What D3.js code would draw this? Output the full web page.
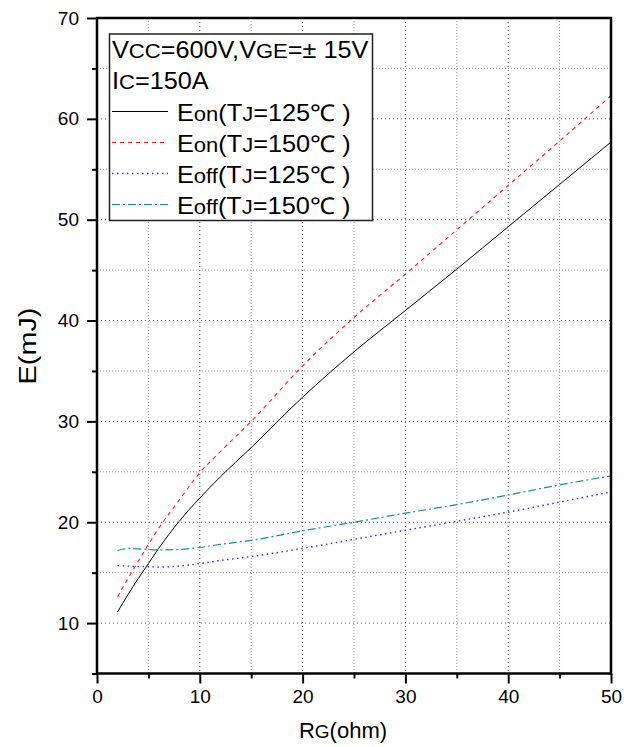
<!DOCTYPE html>
<html>
<head>
<meta charset="utf-8">
<script src="https://cdn.jsdelivr.net/npm/d3@7"></script>
<style>
  html, body { margin: 0; padding: 0; background: #fff; }
  svg { display: block; }
  text { font-family: Arial, "Liberation Sans", Helvetica, sans-serif; fill: #000; }
</style>
</head>
<body>
<svg id="chart" width="624" height="747"></svg>
<script>
// Gate resistance (ohm) sample points
const rg = [2, 3, 4, 5, 6, 8, 10, 12, 15, 20, 25, 30, 35, 40, 45, 50];
// Switching energies (mJ)
const eon125  = [11.1, 12.8, 14.4, 15.9, 17.4, 20.1, 22.4, 24.5, 27.4, 32.4, 36.9, 41.0, 45.1, 49.3, 53.5, 57.7];
const eon150  = [12.6, 14.4, 16.1, 17.8, 19.4, 22.2, 24.9, 27.0, 30.0, 35.5, 40.3, 44.6, 49.0, 53.4, 57.8, 62.3];
const eoff125 = [15.7, 15.65, 15.6, 15.6, 15.55, 15.65, 15.9, 16.2, 16.6, 17.4, 18.3, 19.2, 20.1, 21.0, 22.0, 23.0];
const eoff150 = [17.2, 17.4, 17.35, 17.3, 17.25, 17.3, 17.5, 17.8, 18.2, 19.15, 20.0, 20.9, 21.75, 22.7, 23.7, 24.6];

const xMajor = [0, 10, 20, 30, 40, 50];
const xMinor = [5, 15, 25, 35, 45];
const yMajor = [10, 20, 30, 40, 50, 60, 70];
const yMinor = [5, 15, 25, 35, 45, 55, 65];

const seriesList = [
  { values: eon125,  main: "E", sub: "on",  tj: "125", color: "#000000", dash: null,      width: 1 },
  { values: eon150,  main: "E", sub: "on",  tj: "150", color: "#ff1a1a", dash: "4,4",     width: 1.1 },
  { values: eoff125, main: "E", sub: "off", tj: "125", color: "#3030ff", dash: "1.5,3.5", width: 1.4 },
  { values: eoff150, main: "E", sub: "off", tj: "150", color: "#1a9090", dash: "8,3,2,3", width: 1.2 }
];

const svg = d3.select("#chart");
const plotL = 97, plotR = 611, plotT = 18, plotB = 673.5;

const x = d3.scaleLinear().domain([0, 50]).range([plotL, plotR]);
const y = d3.scaleLinear().domain([5, 70]).range([plotB, plotT]);

// Grid: light dotted lines on minor steps, darker on major steps
const grid = svg.append("g");
grid.selectAll(".vmin").data(xMinor).join("line")
  .attr("x1", d => x(d)).attr("x2", d => x(d)).attr("y1", plotT).attr("y2", plotB)
  .attr("stroke", "#9a9a9a").attr("stroke-width", 1).attr("stroke-dasharray", "1,2");
grid.selectAll(".vmaj").data(xMajor.slice(1, -1)).join("line")
  .attr("x1", d => x(d)).attr("x2", d => x(d)).attr("y1", plotT).attr("y2", plotB)
  .attr("stroke", "#555").attr("stroke-width", 1).attr("stroke-dasharray", "1,3");
grid.selectAll(".hmin").data(yMinor.slice(1)).join("line")
  .attr("y1", d => y(d)).attr("y2", d => y(d)).attr("x1", plotL).attr("x2", plotR)
  .attr("stroke", "#9a9a9a").attr("stroke-width", 1).attr("stroke-dasharray", "1,2");
grid.selectAll(".hmaj").data(yMajor.slice(0, -1)).join("line")
  .attr("y1", d => y(d)).attr("y2", d => y(d)).attr("x1", plotL).attr("x2", plotR)
  .attr("stroke", "#555").attr("stroke-width", 1).attr("stroke-dasharray", "1,3");

// Curves
const line = d3.line().curve(d3.curveMonotoneX);
const curves = svg.append("g");
seriesList.forEach(s => {
  curves.append("path")
    .attr("d", line(rg.map((r, i) => [x(r), y(s.values[i])])))
    .attr("fill", "none")
    .attr("stroke", s.color)
    .attr("stroke-width", s.width)
    .attr("stroke-dasharray", s.dash);
});

// Axes
const axisStyle = g => {
  g.select(".domain").remove();
  g.selectAll(".tick line").attr("stroke", "#000").attr("stroke-width", 2);
  g.selectAll(".tick text").attr("font-size", 19).attr("fill", "#000")
    .style("font-family", "Arial, 'Liberation Sans', sans-serif");
};

svg.append("g").attr("transform", `translate(0,${plotB})`)
  .call(d3.axisBottom(x).tickValues(xMajor).tickSize(10).tickPadding(6).tickFormat(d3.format("d")))
  .call(axisStyle);
svg.append("g").attr("transform", `translate(0,${plotB})`)
  .call(d3.axisBottom(x).tickValues(xMinor).tickSize(5).tickFormat(""))
  .call(axisStyle);
svg.append("g").attr("transform", `translate(${plotL},0)`)
  .call(d3.axisLeft(y).tickValues(yMajor).tickSize(10).tickPadding(8).tickFormat(d3.format("d")))
  .call(axisStyle);
svg.append("g").attr("transform", `translate(${plotL},0)`)
  .call(d3.axisLeft(y).tickValues(yMinor).tickSize(5).tickFormat(""))
  .call(axisStyle);

// Frame
svg.append("rect")
  .attr("x", plotL).attr("y", plotT).attr("width", plotR - plotL).attr("height", plotB - plotT)
  .attr("fill", "none").attr("stroke", "#000").attr("stroke-width", 2.5);

// Axis titles
const xt = svg.append("text").attr("x", 343).attr("y", 738).attr("text-anchor", "middle").attr("font-size", 22);
xt.append("tspan").text("R");
xt.append("tspan").attr("font-size", 19).text("G");
xt.append("tspan").text("(ohm)");

// Vertical title is drawn with a slightly wider letter form
svg.append("text").attr("transform", "translate(36,346) rotate(-90) scale(1.2,1)")
  .attr("text-anchor", "middle").attr("font-size", 24).text("E(mJ)");

// Legend
const lg = svg.append("g");
lg.append("rect").attr("x", 109.5).attr("y", 34).attr("width", 263).attr("height", 186.5)
  .attr("fill", "#fff").attr("stroke", "#222").attr("stroke-width", 1.5);

const big = 23, small = 20, stretch = 1.1;
const legendText = (tx, ty) => lg.append("text")
  .attr("transform", `translate(${tx},${ty}) scale(${stretch},1)`)
  .attr("font-size", big);

const r1 = legendText(112, 58);
r1.append("tspan").text("V");
r1.append("tspan").attr("font-size", small).text("CC");
r1.append("tspan").text("=600V,V");
r1.append("tspan").attr("font-size", small).text("GE");
r1.append("tspan").text("=\u00B1 15V");

const r2 = legendText(112, 89);
r2.append("tspan").text("I");
r2.append("tspan").attr("font-size", small).text("C");
r2.append("tspan").text("=150A");

seriesList.forEach((s, i) => {
  const base = 121 + i * 31;
  lg.append("line")
    .attr("x1", 112).attr("x2", 168).attr("y1", base - 9.5).attr("y2", base - 9.5)
    .attr("stroke", s.color).attr("stroke-width", s.width).attr("stroke-dasharray", s.dash);
  const t = legendText(177, base);
  t.append("tspan").text(s.main);
  t.append("tspan").attr("font-size", small).text(s.sub);
  t.append("tspan").text("(T");
  t.append("tspan").attr("font-size", small).text("J");
  t.append("tspan").text("=" + s.tj + "\u2103 )");
});
</script>
</body>
</html>
